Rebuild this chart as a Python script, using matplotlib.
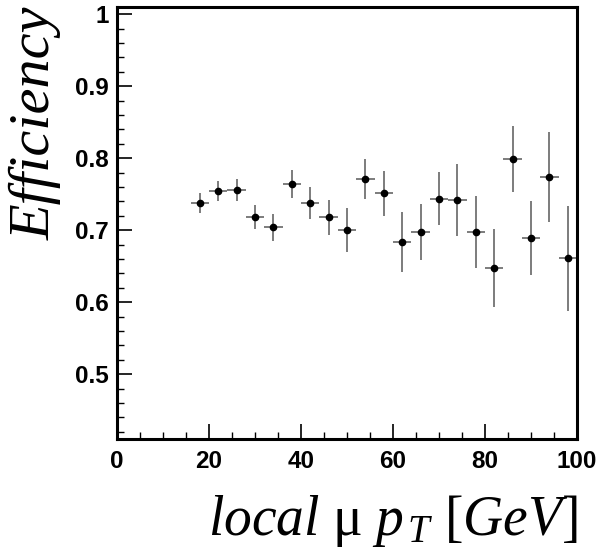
import matplotlib
matplotlib.use("Agg")
import matplotlib.pyplot as plt
from matplotlib.ticker import MultipleLocator

# Efficiency vs local muon pT, 4 GeV bins from 16 to 100 GeV
pt_centers = [18, 22, 26, 30, 34, 38, 42, 46, 50, 54, 58,
              62, 66, 70, 74, 78, 82, 86, 90, 94, 98]
pt_half_width = [2] * 21
efficiency = [0.738, 0.754, 0.756, 0.718, 0.704, 0.764, 0.738, 0.718, 0.700, 0.771, 0.751,
              0.684, 0.697, 0.744, 0.742, 0.698, 0.647, 0.799, 0.689, 0.774, 0.661]
eff_error = [0.0135, 0.014, 0.015, 0.017, 0.019, 0.019, 0.022, 0.0245, 0.0305, 0.028, 0.031,
             0.0415, 0.039, 0.037, 0.0495, 0.050, 0.054, 0.046, 0.051, 0.063, 0.073]

x_ticks = [0, 20, 40, 60, 80, 100]
y_ticks = [0.5, 0.6, 0.7, 0.8, 0.9, 1.0]
y_tick_labels = ["0.5", "0.6", "0.7", "0.8", "0.9", "1"]

plt.rcParams["mathtext.fontset"] = "custom"
plt.rcParams["mathtext.it"] = "Liberation Serif:italic"
plt.rcParams["mathtext.rm"] = "Liberation Serif"

fig = plt.figure(figsize=(6.01, 5.51), dpi=100)
ax = fig.add_axes([117 / 601, 1 - 439 / 551, 460 / 601, 432 / 551])

ax.errorbar(pt_centers, efficiency, xerr=pt_half_width, yerr=eff_error,
            fmt="o", color="black", ecolor="#666666", elinewidth=1.2,
            markersize=4.5, capsize=0)

ax.set_xlim(0, 100)
ax.set_ylim(0.41, 1.01)

ax.set_xticks(x_ticks)
ax.set_xticklabels([str(v) for v in x_ticks])
ax.set_yticks(y_ticks)
ax.set_yticklabels(y_tick_labels)
ax.xaxis.set_minor_locator(MultipleLocator(5))
ax.yaxis.set_minor_locator(MultipleLocator(0.02))

for s in ax.spines.values():
    s.set_linewidth(2.2)

ax.tick_params(axis="both", which="both", direction="in", top=False, right=False)
ax.tick_params(axis="both", which="major", length=11, width=1.2, labelsize=17.5)
ax.tick_params(axis="both", which="minor", length=5, width=1.0)
ax.tick_params(axis="x", which="major", pad=8)
ax.tick_params(axis="y", which="major", pad=6)
for lab in ax.get_xticklabels() + ax.get_yticklabels():
    lab.set_fontfamily("Liberation Sans")
    lab.set_fontweight("bold")

fig.text(36 / 601, 1 - 7 / 551, "Efficiency", rotation=90, ha="center", va="top",
         fontsize=42, fontfamily="Liberation Serif", fontstyle="italic")
fig.text(578 / 601, 1 - 535 / 551,
         r"$local\ \mathrm{\mu}\ p_{\,T}\ [GeV]$",
         ha="right", va="baseline", fontsize=40)

fig.savefig("out.png", dpi=100)
